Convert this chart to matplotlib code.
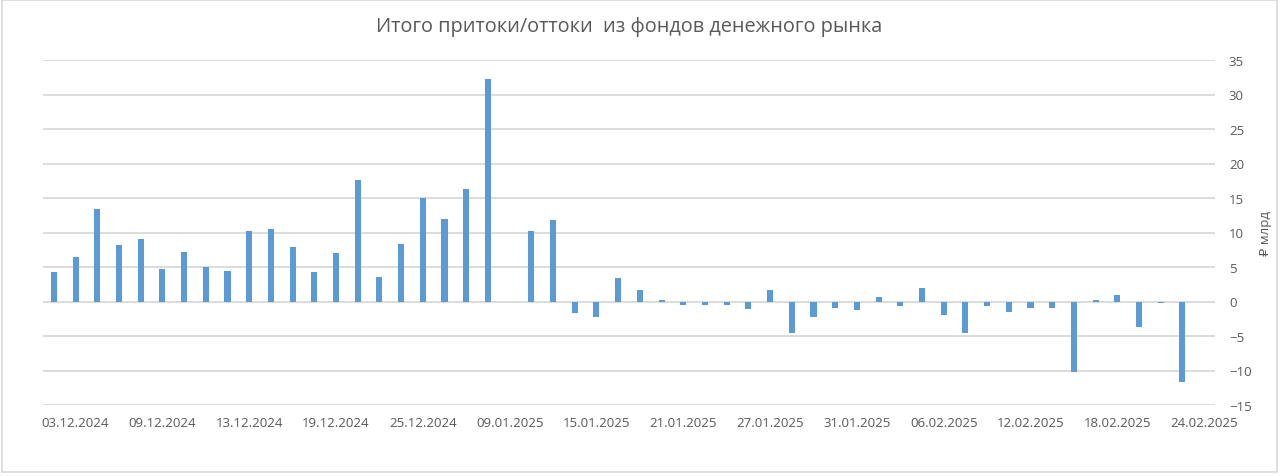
import numpy as np
import matplotlib.pyplot as plt

# Data, ₽ bn
dates = ["02.12.2024", "03.12.2024", "04.12.2024", "05.12.2024", "06.12.2024",
         "09.12.2024", "10.12.2024", "11.12.2024", "12.12.2024", "13.12.2024",
         "16.12.2024", "17.12.2024", "18.12.2024", "19.12.2024", "20.12.2024",
         "23.12.2024", "24.12.2024", "25.12.2024", "26.12.2024", "27.12.2024",
         "28.12.2024", "09.01.2025", "10.01.2025", "13.01.2025", "14.01.2025",
         "15.01.2025", "16.01.2025", "17.01.2025", "20.01.2025", "21.01.2025",
         "22.01.2025", "23.01.2025", "24.01.2025", "27.01.2025", "28.01.2025",
         "29.01.2025", "30.01.2025", "31.01.2025", "03.02.2025", "04.02.2025",
         "05.02.2025", "06.02.2025", "07.02.2025", "10.02.2025", "11.02.2025",
         "12.02.2025", "13.02.2025", "14.02.2025", "17.02.2025", "18.02.2025",
         "19.02.2025", "20.02.2025", "21.02.2025", "24.02.2025"]
flows = [4.3, 6.4, 13.4, 8.2, 9.1,
         4.7, 7.2, 5.0, 4.35, 10.2,
         10.5, 7.9, 4.25, 7.0, 17.55,
         3.6, 8.4, 15.0, 11.9, 16.3,
         32.2, 0.0, 10.2, 11.8, -1.6,
         -2.2, 3.4, 1.7, 0.2, -0.5,
         -0.5, -0.5, -1.1, 1.7, -4.6,
         -2.2, -1.0, -1.3, 0.7, -0.7,
         1.9, -2.0, -4.6, -0.7, -1.5,
         -1.0, -1.0, -10.2, 0.2, 0.9,
         -3.7, -0.2, -11.6, np.nan]

title = "Итого притоки/оттоки  из фондов денежного рынка"
ylabel = "₽ млрд"

fonts = ["Open Sans", "DejaVu Sans"]
plt.rcParams["font.family"] = fonts
grey = "#595959"

fig = plt.figure(figsize=(12.8, 4.77), dpi=100)
ax = fig.add_axes([43 / 1280, 1 - 406 / 477, (1215 - 43) / 1280, (406 - 61) / 477])

x = np.arange(len(dates))
ax.bar(x, flows, width=0.28, color="#5b9bd5", zorder=3)

ax.set_xlim(-0.5, len(dates) - 0.5)
ax.set_ylim(-15, 35)
ax.set_yticks(np.arange(-15, 36, 5))
ax.yaxis.tick_right()
ax.yaxis.set_label_position("right")
ax.grid(axis="y", color="#d9d9d9", linewidth=1.3, zorder=0)
ax.set_axisbelow(True)

ax.set_xticks(x[1::4])
ax.set_xticklabels(dates[1::4])
ax.tick_params(axis="x", length=0, pad=8, labelsize=9.5, labelcolor=grey)
ax.tick_params(axis="y", length=0, pad=10, labelsize=9.5, labelcolor=grey)

for s in ax.spines.values():
    s.set_visible(False)

ax.set_ylabel(ylabel, color=grey, fontsize=9.5, rotation=90, labelpad=5)
ax.set_title(title, color=grey, fontsize=14.3, pad=21)

# light border around the whole chart
fig.patches.append(plt.Rectangle((2 / 1280, 4 / 477), 1275 / 1280, 472 / 477,
                                 transform=fig.transFigure, fill=False,
                                 edgecolor="#d9d9d9", linewidth=1.2))

fig.savefig("out.png", dpi=100, facecolor="white")
